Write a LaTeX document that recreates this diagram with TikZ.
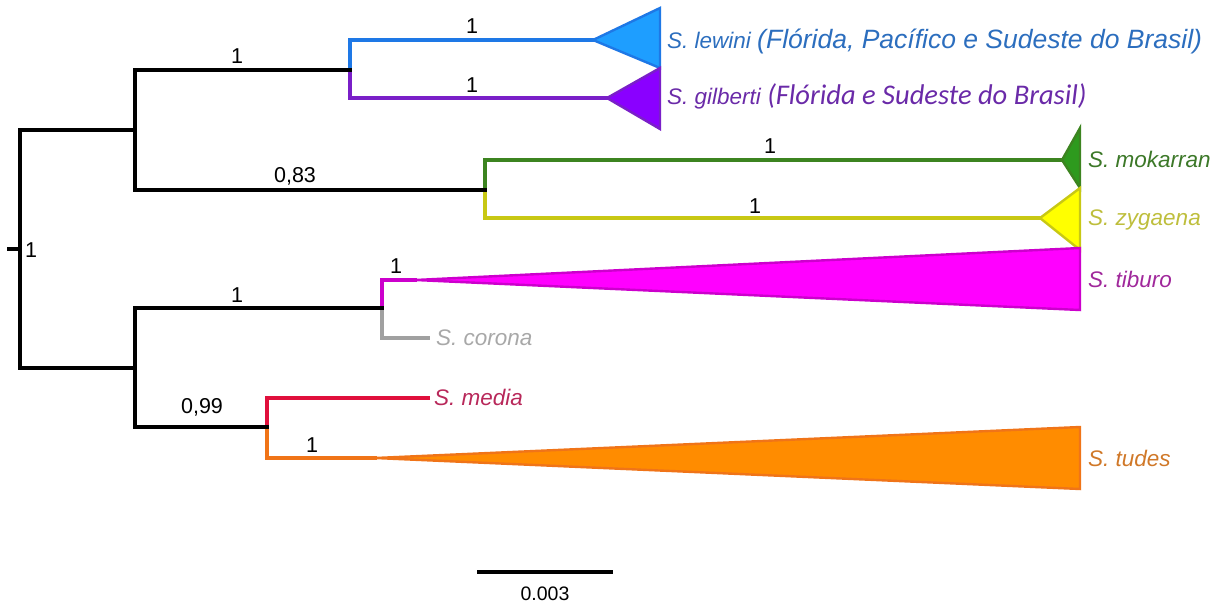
\documentclass[tikz,border=0pt]{standalone}
\usepackage{fontspec}
\setmainfont{Liberation Sans}
\newfontfamily\calibri{Carlito}
% branch and clade colours
\definecolor{cLew}{HTML}{1E78E6}\definecolor{fLew}{HTML}{1E9EFF}\definecolor{tLew}{HTML}{2C6EBE}
\definecolor{cGil}{HTML}{7A1FC8}\definecolor{fGil}{HTML}{8A00FF}\definecolor{tGil}{HTML}{6A2AA8}
\definecolor{cMok}{HTML}{3C8420}\definecolor{fMok}{HTML}{2E9A1E}\definecolor{tMok}{HTML}{3C7828}
\definecolor{cZyg}{HTML}{C8C814}\definecolor{fZyg}{HTML}{FFFF00}\definecolor{tZyg}{HTML}{BEBE3C}
\definecolor{cTib}{HTML}{CC00CC}\definecolor{fTib}{HTML}{FF00FF}\definecolor{tTib}{HTML}{A0289B}
\definecolor{cCor}{HTML}{A0A0A0}\definecolor{tCor}{HTML}{A8A8A8}
\definecolor{cMed}{HTML}{E0103C}\definecolor{tMed}{HTML}{B8285A}
\definecolor{cTud}{HTML}{F07418}\definecolor{fTud}{HTML}{FF8C00}\definecolor{tTud}{HTML}{D07828}
\begin{document}
\begin{tikzpicture}[x=1pt,y=-1pt,
  blk/.style={line width=3.8pt, line join=miter, line cap=rect, black},
  clr/.style={line width=3.2pt, line join=miter, line cap=rect, draw=#1},
  clade/.style={line width=2.4pt, line join=miter, draw=c#1, fill=f#1},
  supp/.style={anchor=base, font=\fontsize{21.5}{24}\selectfont, inner sep=0pt},
  taxon/.style={anchor=base west, font=\fontsize{22.5}{26}\selectfont\itshape, inner sep=0pt, text=#1}]
\useasboundingbox (0,0) rectangle (1230,605);

% internal nodes
\coordinate (stem) at (9,249);
\coordinate (root) at (20,249);
\coordinate (nA) at (135,130);
\coordinate (nB) at (350,70);
\coordinate (nC) at (485,190);
\coordinate (nD) at (135,368);
\coordinate (nE) at (382,308);
\coordinate (nF) at (267,427);

% tips and collapsed clades
\coordinate (lewTip) at (593,40);  \coordinate (lewA) at (660,8);   \coordinate (lewB) at (660,68);
\coordinate (gilTip) at (607,98);  \coordinate (gilA) at (660,68);  \coordinate (gilB) at (660,129);
\coordinate (mokTip) at (1062,160);\coordinate (mokA) at (1080,128);\coordinate (mokB) at (1080,188);
\coordinate (zygTip) at (1040,218);\coordinate (zygA) at (1080,188);\coordinate (zygB) at (1080,250);
\coordinate (tibTip) at (415,280); \coordinate (tibA) at (1080,248);\coordinate (tibB) at (1080,310);
\coordinate (corEnd) at (428,338);
\coordinate (medEnd) at (428,398);
\coordinate (tudTip) at (375,458); \coordinate (tudA) at (1080,427);\coordinate (tudB) at (1080,489);

% collapsed clades
\draw[clade=Lew] (lewTip) -- (lewA) -- (lewB) -- cycle;
\draw[clade=Gil] (gilTip) -- (gilA) -- (gilB) -- cycle;
\draw[clade=Mok] (mokTip) -- (mokA) -- (mokB) -- cycle;
\draw[clade=Zyg] (zygTip) -- (zygA) -- (zygB) -- cycle;
\draw[clade=Tib] (tibTip) -- (tibA) -- (tibB) -- cycle;
\draw[clade=Tud] (tudTip) -- (tudA) -- (tudB) -- cycle;

% coloured terminal branches
\draw[clr=cLew] (nB) |- (lewTip);
\draw[clr=cGil] (nB) |- (gilTip);
\draw[clr=cMok] (nC) |- (mokTip);
\draw[clr=cZyg] (nC) |- (zygTip);
\draw[clr=cTib] (nE) |- (tibTip);
\draw[clr=cCor] (nE) |- (corEnd);
\draw[clr=cMed] (nF) |- (medEnd);
\draw[clr=cTud] (nF) |- (tudTip);

% backbone
\draw[blk] (stem) -- (root);
\draw[blk] (root) |- (nA);
\draw[blk] (root) |- (nD);
\draw[blk] (nA) |- (nB);
\draw[blk] (nA) |- (nC);
\draw[blk] (nD) |- (nE);
\draw[blk] (nD) |- (nF);

% support values
\node[supp, anchor=base west] (sRoot) at (25,257) {1};
\node[supp] (sB) at (237,63) {1};
\node[supp] (sLew) at (472,33) {1};
\node[supp] (sGil) at (472,92) {1};
\node[supp] (sC) at (295,182) {0,83};
\node[supp] (sMok) at (770,153) {1};
\node[supp] (sZyg) at (755,213) {1};
\node[supp] (sE) at (237,302) {1};
\node[supp] (sTib) at (396,273) {1};
\node[supp] (sF) at (202,413) {0,99};
\node[supp] (sTud) at (312,452) {1};

% taxon labels
\node[taxon=tLew] (lLew) at (667,48) {S. lewini {\fontsize{26.5}{30}\selectfont(Flórida, Pacífico e Sudeste do Brasil)}};
\node[taxon=tGil] (lGil) at (667,104) {S. gilberti {\calibri\fontsize{28.5}{32}\selectfont(Flórida e Sudeste do Brasil)}};
\node[taxon=tMok] (lMok) at (1088,167) {S. mokarran};
\node[taxon=tZyg] (lZyg) at (1088,225) {S. zygaena};
\node[taxon=tTib] (lTib) at (1088,287) {S. tiburo};
\node[taxon=tCor] (lCor) at (436,345) {S. corona};
\node[taxon=tMed] (lMed) at (434,405) {S. media};
\node[taxon=tTud] (lTud) at (1088,466) {S. tudes};

% scale bar
\coordinate (sbL) at (477,572);
\coordinate (sbR) at (613,572);
\draw[line width=3.6pt] (sbL) -- (sbR);
\node[supp, font=\fontsize{19.5}{22}\selectfont] (sbT) at (545,600) {0.003};
\end{tikzpicture}
\end{document}
